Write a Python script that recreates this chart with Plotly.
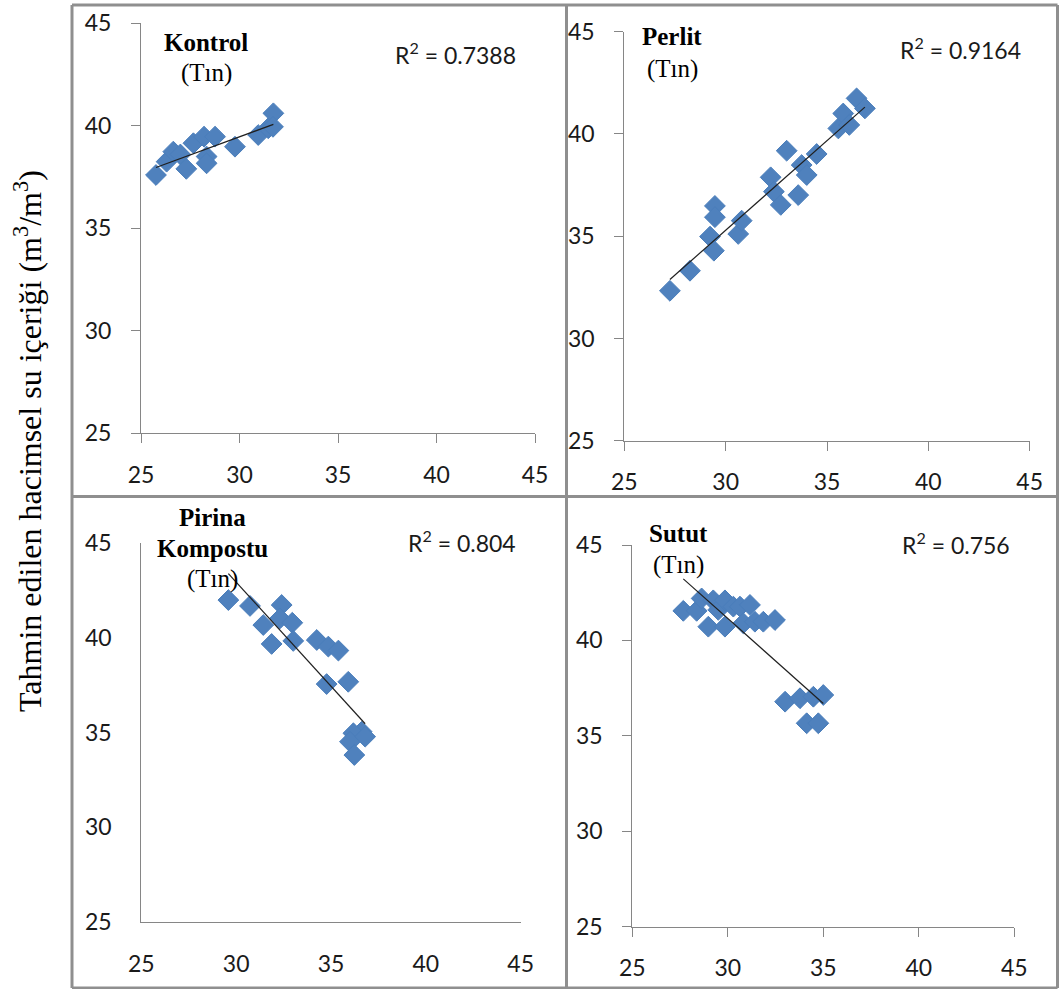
import numpy as np
import plotly.graph_objects as go

W, H = 1059, 989

# Ölçülen (x) ve tahmin edilen (y) hacimsel su içeriği değerleri, tın bünye
kontrol_x = [25.76, 26.3, 26.64, 27.0, 27.3, 27.66, 28.2, 28.76, 28.33, 28.33, 29.77, 30.95, 31.46, 31.72, 31.7]
kontrol_y = [37.6, 38.25, 38.74, 38.6, 37.9, 39.15, 39.47, 39.47, 38.5, 38.17, 38.98, 39.55, 39.88, 40.61, 39.95]

perlit_x = [27.25, 28.24, 29.23, 29.42, 29.47, 29.47, 30.62, 30.79, 32.22, 32.38, 32.72,
            33.01, 33.58, 33.75, 34.0, 34.49, 35.56, 35.8, 36.1, 36.46, 36.87]
perlit_y = [32.33, 33.31, 34.98, 34.29, 36.48, 35.93, 35.11, 35.76, 37.88, 37.18, 36.53,
            39.18, 37.01, 38.48, 37.99, 39.02, 40.27, 41.0, 40.44, 41.74, 41.25]

pirina_x = [29.59, 30.73, 32.4, 31.43, 32.31, 32.96, 31.87, 33.01, 34.25, 34.86, 35.39,
            34.77, 35.91, 36.62, 36.18, 36.0, 36.8, 36.23]
pirina_y = [42.0, 41.69, 41.74, 40.68, 41.03, 40.8, 39.68, 39.84, 39.89, 39.54, 39.33,
            37.56, 37.68, 35.04, 34.96, 34.51, 34.78, 33.81]

sutut_x = [27.67, 28.37, 28.63, 28.98, 29.24, 29.5, 29.85, 29.85, 30.29, 30.64, 30.81,
           31.16, 31.42, 31.86, 32.47, 33.0, 33.78, 34.48, 35.0, 34.13, 34.74]
sutut_y = [41.55, 41.55, 42.2, 40.72, 42.1, 41.6, 42.1, 40.72, 41.77, 41.77, 40.9,
           41.86, 40.98, 40.98, 41.07, 36.79, 36.97, 37.05, 37.14, 35.66, 35.66]

titles = [["Kontrol", "(Tın)"], ["Perlit", "(Tın)"], ["Pirina", "Kompostu", "(Tın)"], ["Sutut", "(Tın)"]]
r2_labels = ["0.7388", "0.9164", "0.804", "0.756"]
tick_vals = [25, 30, 35, 40, 45]
y_title = "Tahmin edilen hacimsel su içeriği (m<sup>3</sup>/m<sup>3</sup>)"

series = [(kontrol_x, kontrol_y), (perlit_x, perlit_y), (pirina_x, pirina_y), (sutut_x, sutut_y)]

# Panel geometry in pixels: plot area (left, right, top, bottom)
areas = [(141.0, 535.0, 23.3, 433.3),
         (624.3, 1029.7, 31.7, 440.7),
         (141.3, 520.7, 543.3, 921.7),
         (632.3, 1014.3, 545.0, 926.7)]
show_ticks = [True, True, False, True]
# title line centres (x, [y per line]) and R² label centre
title_pos = [(206, [42, 73]), (672, [37, 69]), (212, [517, 548, 579]), (678, [533, 565])]
r2_pos = [(455, 53), (960, 48), (462, 541), (956, 543)]

AXIS_COL = "#868686"
MARK_COL = "#4F81BD"
TEXT_COL = "#1a1a1a"
TICK_FONT = dict(family="Lato", size=23, color=TEXT_COL)

def px(x):
    return x / W

def py(y):
    return 1 - y / H

fig = go.Figure()
layout = dict(width=W, height=H,
              margin=dict(l=0, r=0, t=0, b=0, pad=0, autoexpand=False),
              paper_bgcolor="white", plot_bgcolor="white", showlegend=False)

annotations = []
for i, ((xs, ys), (l, r, t, b)) in enumerate(zip(series, areas)):
    k = "" if i == 0 else str(i + 1)
    xa, ya = "x" + k, "y" + k
    fig.add_trace(go.Scatter(x=xs, y=ys, mode="markers", xaxis=xa, yaxis=ya,
                             marker=dict(symbol="diamond", size=16, color=MARK_COL,
                                         line=dict(width=1, color="#4A7EBB"))))
    # least-squares trend line over the data's x span
    slope, icpt = np.polyfit(xs, ys, 1)
    lx = np.array([min(xs), max(xs)])
    fig.add_trace(go.Scatter(x=lx, y=slope * lx + icpt, mode="lines", xaxis=xa, yaxis=ya,
                             line=dict(color="#202020", width=1.2)))

    ticks = "outside" if show_ticks[i] else ""
    common = dict(range=[25, 45], tickvals=tick_vals, showgrid=False, zeroline=False,
                  showline=True, linecolor=AXIS_COL, linewidth=1, ticks=ticks,
                  ticklen=9, tickcolor=AXIS_COL, tickfont=TICK_FONT, fixedrange=True,
                  automargin=False)
    layout["xaxis" + k] = dict(common, domain=[px(l), px(r)], anchor=ya,
                               ticklabelstandoff=12 if show_ticks[i] else 22)
    layout["yaxis" + k] = dict(common, domain=[py(b), py(t)], anchor=xa,
                               ticklabelstandoff=15 if show_ticks[i] else 24)

    tx, tys = title_pos[i]
    for j, (line, ty) in enumerate(zip(titles[i], tys)):
        bold = j < len(titles[i]) - 1
        annotations.append(dict(x=px(tx), y=py(ty), xref="paper", yref="paper",
                                text=f"<b>{line}</b>" if bold else line, showarrow=False,
                                xanchor="center", yanchor="middle",
                                font=dict(family="Liberation Serif", size=25, color="black")))
    rx, ry = r2_pos[i]
    annotations.append(dict(x=px(rx), y=py(ry), xref="paper", yref="paper",
                            text=f"R<sup>2</sup> = {r2_labels[i]}", showarrow=False,
                            xanchor="center", yanchor="middle",
                            font=dict(family="Lato", size=23, color=TEXT_COL)))

annotations.append(dict(x=px(28), y=py(441), xref="paper", yref="paper", text=y_title,
                        showarrow=False, textangle=-90, xanchor="center", yanchor="middle",
                        font=dict(family="Liberation Serif", size=32, color="black")))

# grey frame dividing the four panels
FRAME = dict(type="line", xref="paper", yref="paper", line=dict(color="#8f8f8f", width=3))
shapes = []
for xv in (72, 566.5, 1057.5):
    shapes.append(dict(FRAME, x0=px(xv), x1=px(xv), y0=py(5), y1=py(988)))
for yv in (5, 496.5, 988):
    shapes.append(dict(FRAME, x0=px(72), x1=px(1057.5), y0=py(yv), y1=py(yv)))

layout["annotations"] = annotations
layout["shapes"] = shapes
fig.update_layout(**layout)
fig.write_html("out.html")
